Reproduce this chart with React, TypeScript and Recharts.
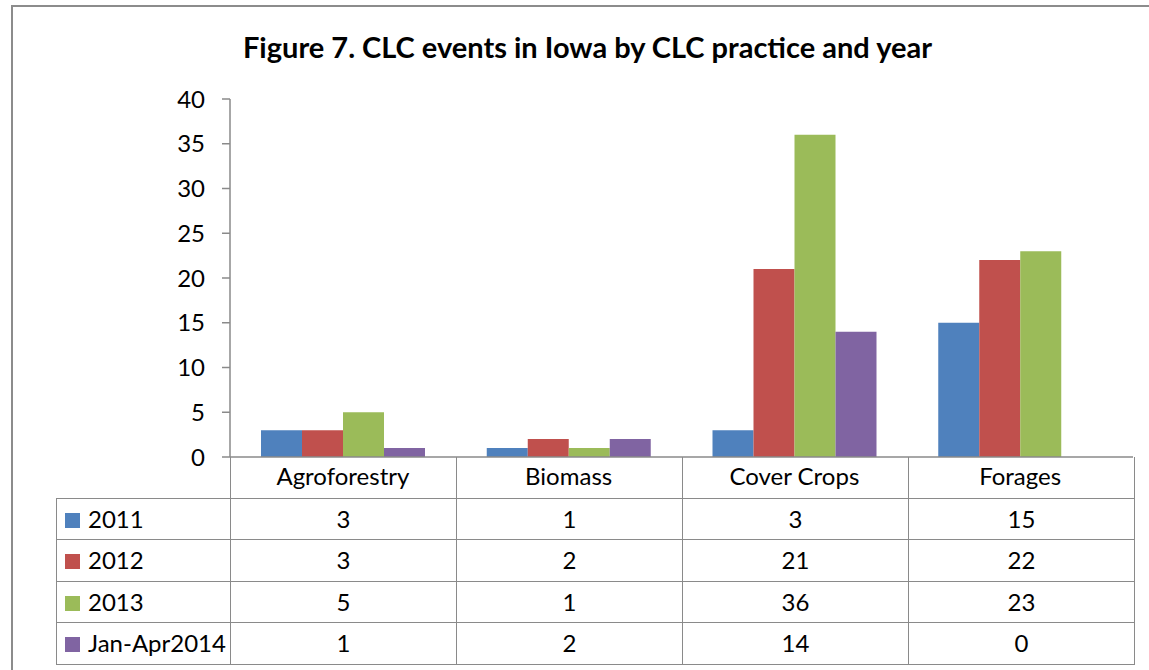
import { BarChart, Bar, XAxis, YAxis } from 'recharts';

const categories = ['Agroforestry', 'Biomass', 'Cover Crops', 'Forages'];
const seriesNames = ['2011', '2012', '2013', 'Jan-Apr2014'];
const values2011 = [3, 1, 3, 15];
const values2012 = [3, 2, 21, 22];
const values2013 = [5, 1, 36, 23];
const valuesJanApr2014 = [1, 2, 14, 0];
const yTicks = [0, 5, 10, 15, 20, 25, 30, 35, 40];

const colors = ['#4F81BD', '#C0504D', '#9BBB59', '#8064A2'];
const seriesValues = [values2011, values2012, values2013, valuesJanApr2014];

const chartData = categories.map((cat, i) => ({
  category: cat,
  s0: values2011[i],
  s1: values2012[i],
  s2: values2013[i],
  s3: valuesJanApr2014[i],
}));

const gridColor = '#8a8a8a';
const font = 'Lato, "Open Sans", sans-serif';
const textSize = 24;

export default function App() {
  const cell = {
    border: `1.5px solid ${gridColor}`,
    textAlign: 'center' as const,
    fontSize: textSize,
    height: 40.5,
    padding: 0,
    lineHeight: '24px',
    color: '#000',
  };

  return (
    <div
      style={{
        position: 'absolute',
        left: 0,
        top: 0,
        width: 1149,
        height: 670,
        background: '#fff',
        overflow: 'hidden',
        fontFamily: font,
      }}
    >
      {/* chart frame */}
      <div
        style={{
          position: 'absolute',
          left: 11,
          top: 5,
          width: 1200,
          height: 700,
          borderLeft: '2px solid #8c8c8c',
          borderTop: '2px solid #8c8c8c',
        }}
      />
      <div
        style={{
          position: 'absolute',
          left: 11,
          width: 1153,
          top: 29,
          textAlign: 'center',
          fontWeight: 'bold',
          fontSize: 29,
          lineHeight: '36px',
          color: '#000',
        }}
      >
        Figure 7. CLC events in Iowa by CLC practice and year
      </div>

      <div style={{ position: 'absolute', left: 0, top: 0 }}>
        <BarChart
          width={1149}
          height={670}
          data={chartData}
          margin={{ top: 99, right: 16, left: 0, bottom: 173 }}
          barGap={0}
          barSize={41}
        >
          <XAxis
            dataKey="category"
            height={40}
            axisLine={{ stroke: gridColor, strokeWidth: 1.5 }}
            tickLine={false}
            tickMargin={5}
            tick={{ fontSize: textSize, fill: '#000' }}
          />
          <YAxis
            width={230}
            domain={[0, 40]}
            ticks={yTicks}
            interval={0}
            axisLine={{ stroke: gridColor, strokeWidth: 1.5 }}
            tickLine={{ stroke: gridColor, strokeWidth: 1.5 }}
            tickSize={8}
            tickMargin={17}
            tick={{ fontSize: textSize, fill: '#000' }}
          />
          {seriesNames.map((name, i) => (
            <Bar key={name} dataKey={`s${i}`} name={name} fill={colors[i]} isAnimationActive={false} />
          ))}
        </BarChart>
      </div>

      {/* data table */}
      <table
        style={{
          position: 'absolute',
          left: 56,
          top: 457,
          borderCollapse: 'collapse',
          tableLayout: 'fixed',
          width: 1077,
          fontFamily: font,
        }}
      >
        <colgroup>
          <col style={{ width: 174 }} />
          {categories.map((c) => (
            <col key={c} style={{ width: 226 }} />
          ))}
        </colgroup>
        <tbody>
          <tr>
            <td style={{ ...cell, border: 'none', borderRight: `1.5px solid ${gridColor}` }} />
            {categories.map((c) => (
              <td key={c} style={{ ...cell, borderTop: 'none' }} />
            ))}
          </tr>
          {seriesNames.map((name, si) => (
            <tr key={name}>
              <td style={{ ...cell, textAlign: 'left', paddingLeft: 8, whiteSpace: 'nowrap' }}>
                <span
                  style={{
                    display: 'inline-block',
                    width: 15,
                    height: 15,
                    background: colors[si],
                    marginRight: 8,
                    verticalAlign: 0,
                  }}
                />
                {name}
              </td>
              {seriesValues[si].map((v, ci) => (
                <td key={ci} style={cell}>
                  {v}
                </td>
              ))}
            </tr>
          ))}
        </tbody>
      </table>
    </div>
  );
}
